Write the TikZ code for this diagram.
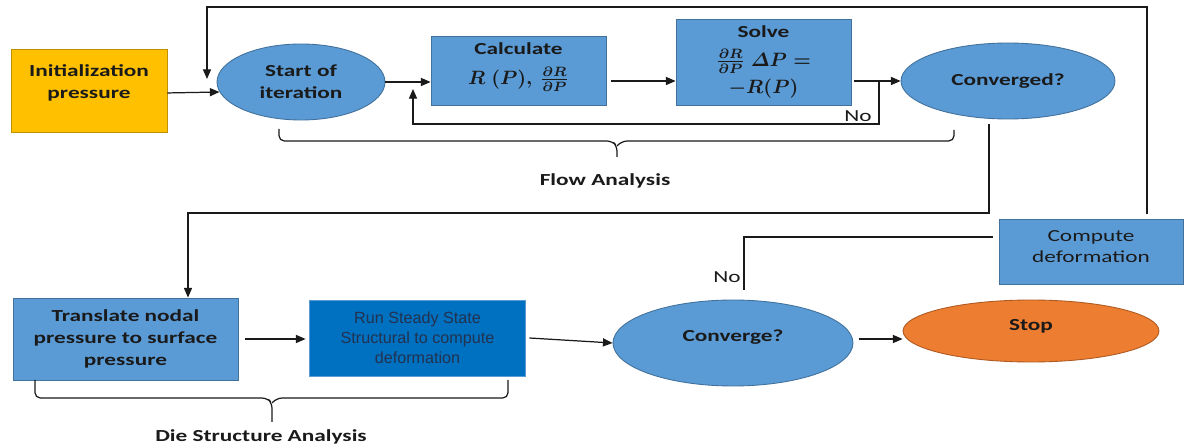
\documentclass[tikz,border=0pt]{standalone}
\usepackage{amsmath}
\usepackage{graphicx}
\usepackage{fontspec}
\setmainfont{Carlito}[FakeStretch=1.38]
\newfontfamily\arialfont{Liberation Sans}
\usetikzlibrary{arrows.meta,calc,shapes.geometric}

\definecolor{officeblue}{HTML}{5B9BD5}
\definecolor{blueedge}{HTML}{41719C}
\definecolor{deepblue}{HTML}{0070C0}
\definecolor{gold}{HTML}{FFC000}
\definecolor{goldedge}{HTML}{BF9000}
\definecolor{orangefill}{HTML}{ED7D31}
\definecolor{orangeedge}{HTML}{AE5A21}
\definecolor{ink}{HTML}{1A1A1A}
\definecolor{runtext}{HTML}{22324F}

\begin{document}
\begin{tikzpicture}[x=0.02cm,y=-0.02cm,
  wire/.style={draw=ink,line width=0.7pt},
  arr/.style={wire,-{Triangle[length=5.5pt,width=4.6pt]}},
  bold/.style={font=\fontsize{9.6pt}{12.4pt}\selectfont\bfseries,text=ink,align=center},
  boldmath/.style={font=\fontsize{9.6pt}{12.4pt}\selectfont\bfseries\boldmath,text=ink,align=center},
  plain/.style={font=\fontsize{9.6pt}{12.4pt}\selectfont,text=ink,align=center},
  box/.style={rectangle,draw=blueedge,line width=0.5pt,fill=officeblue,inner sep=0pt},
  oval/.style={ellipse,draw=blueedge,line width=0.5pt,fill=officeblue,inner sep=0pt},
  brace/.style={wire,rounded corners=3pt},
]
% canvas
\fill[white] (0,0) rectangle (1189,445);
\path[use as bounding box] (0,0) rectangle (1189,445);

% ---- flow analysis row ----
\node[box,fill=gold,draw=goldedge,minimum width=3.12cm,minimum height=1.66cm] (init) at (89,90.5) {};
\node[bold] (initlabel) at (89,83) {Initialization\\pressure};
\node[oval,bold,minimum width=3.36cm,minimum height=1.52cm] (start) at (301,82) {Start of\\iteration};
\node[box,minimum width=3.5cm,minimum height=1.38cm] (calc) at (518.5,70.5) {};
\node[boldmath] (calclabel) at (518.5,67) {Calculate\\[5pt]\scalebox{1.12}[1.1]{$R\ (P),\,\frac{\partial R}{\partial P}$}};
\node[box,boldmath,minimum width=3.5cm,minimum height=1.72cm] (solve) at (763.5,62)
  {Solve\\[4pt]\scalebox{1.12}[1.1]{$\frac{\partial R}{\partial P}\ \varDelta P =$}\\[3pt]\scalebox{1.12}[1.1]{$-R(P)$}};
\node[oval,bold,minimum width=4.28cm,minimum height=1.52cm] (conv) at (1008,81) {Converged?};

% ---- die structure row ----
\node[box,bold,minimum width=4.5cm,minimum height=1.64cm] (trans) at (125.5,339) {Translate nodal\\pressure to surface\\pressure};
\node[box,fill=deepblue,draw=officeblue,minimum width=4.32cm,minimum height=1.52cm,
  font=\arialfont\fontsize{9.2pt}{11.3pt}\selectfont,text=runtext,align=center] (run) at (417.5,338)
  {Run Steady State\\Structural to compute\\deformation};
\node[oval,minimum width=4.8cm,minimum height=1.72cm] (cv) at (733,343) {};
\node[bold] (cvlabel) at (733,337) {Converge?};
\node[oval,fill=orangefill,draw=orangeedge,minimum width=5.12cm,minimum height=1.24cm] (stop) at (1031,331) {};
\node[bold] (stoplabel) at (1031,326) {Stop};
\node[box,minimum width=3.68cm,minimum height=1.3cm] (comp) at (1091,251.5) {};
\node[plain] (complabel) at (1091,246.5) {Compute\\deformation};

% ---- helper points for routed connectors ----
\coordinate (rowA) at (0,81);
\coordinate (rowB) at (0,339);
\coordinate (loopY) at (0,124);
\coordinate (topY) at (0,7);
\coordinate (midY) at (0,213);
\coordinate (dropX) at (188,0);
\coordinate (noTop) at (879,81);
\coordinate (loopEnd) at (413,89);
\coordinate (fbStart) at (1147,214);
\coordinate (fbEnd) at (207,79);
\coordinate (cvStart) at (989,124);
\coordinate (noBot) at (744,290);
\coordinate (noRight) at (993,237);

% ---- connectors ----
\draw[arr] ([yshift=-1.4pt]init.east) -- (start.187);
\draw[arr] (start.east) -- (start.east -| calc.west);
\draw[arr] ([xshift=2.8pt]calc.east |- rowA) -- (solve.west |- rowA);
\draw[arr] ([xshift=1.5pt]solve.east |- rowA) -- (conv.west);
\draw[arr] (noTop) |- (loopEnd |- loopY) -- (loopEnd);
\draw[arr] (fbStart) |- (fbEnd |- topY) -- (fbEnd);
\draw[arr] (cvStart) |- (dropX |- midY) -- (dropX |- trans.north);
\draw[arr] ([xshift=4pt]trans.east) -- ([xshift=-2pt]run.west |- trans.east);
\draw[arr] ([xshift=2pt]run.east) -- (cv.west);
\draw[arr] ([xshift=3pt]cv.east |- rowB) -- (stop.west |- rowB);
\draw[wire] (noBot) |- (noRight);

\node[plain] (nolabelA) at (858,116) {No};
\node[plain] (nolabelB) at (727,277) {No};

% ---- grouping braces ----
\draw[brace] (279,129) -- (279,141) -- (612,141) -- (617,146) -- (617,157);
\draw[brace] (617,146) -- (622,141) -- (954,141) -- (954,130);
\node[bold] (flowlabel) at (605,181) {Flow Analysis};

\draw[brace] (35,380) -- (35,398) -- (267,398) -- (272,403) -- (272,422);
\draw[brace] (272,403) -- (277,398) -- (508,398) -- (508,380);
\node[bold] (dielabel) at (261,437) {Die Structure Analysis};
\end{tikzpicture}
\end{document}
